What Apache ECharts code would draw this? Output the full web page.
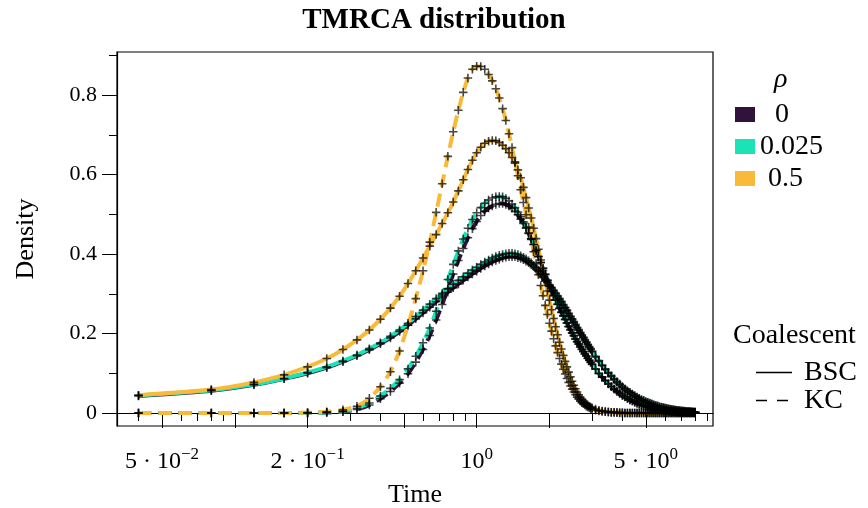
<!DOCTYPE html>
<html><head><meta charset="utf-8">
<script src="https://cdn.jsdelivr.net/npm/echarts@6/dist/echarts.min.js"></script>
<style>html,body{margin:0;padding:0;background:#fff}#c{width:868px;height:508px}</style>
</head><body><div id="c"></div>
<script>
// ---- data ----
const timeVals = [
0.04,0.08,0.12,0.16,0.20,0.24,0.28,0.32,0.36,0.40,
0.44,0.48,0.52,0.56,0.60,0.64,0.68,0.72,0.76,0.80,
0.84,0.88,0.92,0.96,1.00,1.04,1.08,1.12,1.16,1.20,
1.24,1.28,1.32,1.36,1.40,1.44,1.48,1.52,1.56,1.60,
1.64,1.68,1.72,1.76,1.80,1.84,1.88,1.92,1.96,2.00,
2.04,2.08,2.12,2.16,2.20,2.24,2.28,2.32,2.36,2.40,
2.44,2.48,2.52,2.56,2.60,2.64,2.68,2.72,2.76,2.80,
2.84,2.88,2.92,2.96,3.00,
3.1,3.2,3.3,3.4,3.5,3.6,3.7,3.8,3.9,4.0,
4.1,4.2,4.3,4.4,4.5,4.6,4.7,4.8,4.9,5.0,
5.1,5.2,5.3,5.4,5.5,5.6,5.7,5.8,5.9,6.0,
6.1,6.2,6.3,6.4,6.5,6.6,6.7,6.8,6.9,7.0,
7.1,7.2,7.3,7.4,7.5,7.6,7.7,7.8,7.9,8.0];

const bscRho05 = [
0.045,0.059,0.077,0.096,0.116,0.137,0.160,0.184,0.209,0.236,
0.264,0.294,0.326,0.358,0.390,0.420,0.449,0.477,0.504,0.531,
0.559,0.587,0.613,0.636,0.655,0.669,0.679,0.684,0.686,0.685,
0.681,0.674,0.665,0.655,0.643,0.629,0.612,0.592,0.568,0.542,
0.516,0.491,0.465,0.439,0.412,0.385,0.358,0.332,0.307,0.284,
0.260,0.238,0.217,0.197,0.178,0.161,0.145,0.130,0.116,0.103,
0.091,0.080,0.070,0.061,0.053,0.046,0.040,0.035,0.030,0.026,
0.023,0.020,0.017,0.015,0.013,
0.010,0.007,0.005,0.004,0.003,0.002,0.002,0.001,0.001,0.001,
0,0,0,0,0,0,0,0,0,0,
0,0,0,0,0,0,0,0,0,0,
0,0,0,0,0,0,0,0,0,0,
0,0,0,0,0,0,0,0,0,0];

const kcRho05 = [
0,0,0,0,0.001,0.003,0.008,0.017,0.037,0.066,
0.104,0.156,0.221,0.288,0.358,0.430,0.505,0.577,0.646,0.708,
0.762,0.807,0.843,0.865,0.873,0.872,0.865,0.852,0.836,0.816,
0.793,0.766,0.736,0.703,0.668,0.632,0.597,0.562,0.530,0.499,
0.468,0.437,0.406,0.376,0.348,0.321,0.295,0.271,0.248,0.226,
0.206,0.187,0.169,0.152,0.137,0.123,0.110,0.098,0.087,0.077,
0.068,0.060,0.053,0.046,0.040,0.035,0.030,0.026,0.023,0.020,
0.017,0.015,0.013,0.011,0.010,
0.007,0.005,0.004,0.003,0.002,0.001,0.001,0.001,0,0,
0,0,0,0,0,0,0,0,0,0,
0,0,0,0,0,0,0,0,0,0,
0,0,0,0,0,0,0,0,0,0,
0,0,0,0,0,0,0,0,0,0];

const bscRho0025 = [
0.044,0.057,0.072,0.087,0.102,0.116,0.131,0.146,0.162,0.177,
0.193,0.209,0.226,0.243,0.259,0.274,0.288,0.301,0.313,0.324,
0.334,0.343,0.352,0.360,0.367,0.374,0.380,0.385,0.390,0.394,
0.397,0.399,0.401,0.402,0.402,0.401,0.399,0.396,0.392,0.388,
0.383,0.378,0.372,0.366,0.359,0.352,0.345,0.338,0.330,0.323,
0.316,0.309,0.302,0.295,0.288,0.281,0.273,0.266,0.259,0.251,
0.244,0.237,0.230,0.223,0.216,0.210,0.203,0.197,0.191,0.185,
0.179,0.173,0.167,0.162,0.156,
0.143,0.132,0.121,0.111,0.102,0.094,0.086,0.079,0.073,0.067,
0.061,0.056,0.052,0.048,0.044,0.040,0.037,0.034,0.032,0.029,
0.027,0.025,0.023,0.021,0.019,0.018,0.016,0.015,0.014,0.013,
0.012,0.011,0.010,0.009,0.0085,0.0078,0.0072,0.0066,0.0061,0.0056,
0.0052,0.0048,0.0044,0.0041,0.0038,0.0035,0.0032,0.0030,0.0027,0.0025];

const bscRho0 = [
0.043,0.056,0.071,0.086,0.100,0.114,0.129,0.144,0.159,0.174,
0.189,0.205,0.221,0.237,0.252,0.266,0.280,0.292,0.304,0.315,
0.325,0.334,0.342,0.350,0.357,0.364,0.370,0.375,0.380,0.384,
0.387,0.390,0.392,0.393,0.393,0.393,0.391,0.389,0.386,0.382,
0.378,0.373,0.368,0.362,0.356,0.349,0.342,0.335,0.328,0.321,
0.314,0.307,0.300,0.293,0.286,0.279,0.271,0.264,0.257,0.249,
0.242,0.235,0.228,0.221,0.214,0.208,0.201,0.195,0.189,0.183,
0.177,0.171,0.165,0.160,0.154,
0.141,0.130,0.119,0.109,0.100,0.092,0.084,0.077,0.071,0.065,
0.060,0.055,0.051,0.047,0.043,0.039,0.036,0.033,0.031,0.028,
0.026,0.024,0.022,0.020,0.018,0.017,0.015,0.014,0.013,0.012,
0.011,0.010,0.0095,0.0087,0.008,0.0074,0.0068,0.0063,0.0058,0.0053,
0.0049,0.0045,0.0042,0.0039,0.0036,0.0033,0.0030,0.0028,0.0026,0.0024];

const kcRho0025 = [
0,0,0,0,0,0.001,0.004,0.012,0.025,0.043,
0.062,0.084,0.111,0.143,0.177,0.214,0.256,0.297,0.336,0.374,
0.408,0.438,0.465,0.487,0.504,0.517,0.528,0.536,0.541,0.544,
0.545,0.544,0.540,0.534,0.526,0.517,0.506,0.494,0.481,0.467,
0.453,0.439,0.424,0.409,0.394,0.379,0.364,0.349,0.334,0.319,
0.307,0.296,0.285,0.274,0.264,0.254,0.245,0.236,0.227,0.218,
0.210,0.202,0.195,0.187,0.180,0.174,0.167,0.161,0.155,0.149,
0.144,0.138,0.133,0.128,0.123,
0.111,0.100,0.091,0.082,0.074,0.067,0.061,0.055,0.050,0.045,
0.041,0.037,0.033,0.030,0.027,0.025,0.022,0.020,0.018,0.017,
0.015,0.014,0.012,0.011,0.010,0.009,0.008,0.0075,0.0068,0.0061,
0.0055,0.0050,0.0045,0.0041,0.0037,0.0033,0.0030,0.0027,0.0025,0.0022,
0.0020,0.0018,0.0016,0.0015,0.0013,0.0012,0.0011,0.0010,0.0009,0.0008];

const kcRho0 = [
0,0,0,0,0,0.001,0.003,0.009,0.020,0.036,
0.054,0.075,0.099,0.128,0.160,0.195,0.234,0.273,0.312,0.350,
0.384,0.414,0.441,0.464,0.482,0.497,0.508,0.516,0.521,0.525,
0.527,0.527,0.525,0.521,0.515,0.508,0.499,0.488,0.477,0.465,
0.452,0.438,0.424,0.409,0.394,0.379,0.364,0.349,0.334,0.319,
0.306,0.295,0.284,0.273,0.263,0.253,0.244,0.235,0.226,0.217,
0.209,0.201,0.194,0.186,0.179,0.173,0.166,0.160,0.154,0.148,
0.143,0.137,0.132,0.127,0.122,
0.110,0.099,0.090,0.081,0.073,0.066,0.060,0.054,0.049,0.044,
0.040,0.036,0.033,0.030,0.027,0.024,0.022,0.020,0.018,0.016,
0.015,0.013,0.012,0.011,0.010,0.009,0.008,0.0074,0.0067,0.0060,
0.0054,0.0049,0.0044,0.0040,0.0036,0.0033,0.0030,0.0027,0.0024,0.0022,
0.0020,0.0018,0.0016,0.0014,0.0013,0.0012,0.0011,0.0010,0.0009,0.0008];

const rhoLabels = ['0', '0.025', '0.5'];
const rhoColors = ['#30123B', '#1AE4B6', '#FABA39'];
const coalLabels = ['BSC', 'KC'];
const yTickMajor = [0, 0.2, 0.4, 0.6, 0.8];
const yTickMinor = [0.1, 0.3, 0.5, 0.7, 0.9];
const xTickMajor = [0.05, 0.1, 0.2, 0.5, 1, 2, 5];
const xTickMinor = [0.04, 0.06, 0.07, 0.08, 0.09, 0.3, 0.4, 0.6, 0.7, 0.8, 0.9, 3, 4, 6, 7, 8, 9];
const xTickLabelVals = [0.05, 0.2, 1, 5];
const xTickLabelText = [['5 · 10', '−2'], ['2 · 10', '−1'], ['10', '0'], ['5 · 10', '0']];

// ---- chart ----
const FONT = 'Liberation Serif';
const pairs = arr => timeVals.map((x, i) => [x, arr[i]]);
const seriesDefs = [
  {name: 'BSC ρ=0', data: bscRho0, color: rhoColors[0], dash: 'solid'},
  {name: 'KC ρ=0', data: kcRho0, color: rhoColors[0], dash: [13, 7]},
  {name: 'BSC ρ=0.025', data: bscRho0025, color: rhoColors[1], dash: 'solid'},
  {name: 'KC ρ=0.025', data: kcRho0025, color: rhoColors[1], dash: [13, 7]},
  {name: 'BSC ρ=0.5', data: bscRho05, color: rhoColors[2], dash: 'solid'},
  {name: 'KC ρ=0.5', data: kcRho05, color: rhoColors[2], dash: [13, 7]}
];
const plus = 'path://M-0.75,-4 L0.75,-4 L0.75,-0.75 L4,-0.75 L4,0.75 L0.75,0.75 L0.75,4 L-0.75,4 L-0.75,0.75 L-4,0.75 L-4,-0.75 L-0.75,-0.75 Z';
const series = [];
seriesDefs.forEach((s, i) => {
  series.push({
    type: 'line', name: s.name, data: pairs(s.data), showSymbol: false, smooth: 0.2,
    lineStyle: {color: s.color, width: 4, type: s.dash, cap: 'butt'}, z: 2 + i, silent: true
  });
});
seriesDefs.forEach((s, i) => {
  series.push({
    type: 'scatter', name: s.name + ' sim', data: pairs(s.data), symbol: plus, symbolSize: 8.5,
    itemStyle: {color: 'rgba(0,0,0,0.9)'}, z: 20, silent: true
  });
});

function xLabel(v) {
  for (let i = 0; i < xTickLabelVals.length; i++) {
    if (Math.abs(v - xTickLabelVals[i]) / xTickLabelVals[i] < 1e-6) {
      return '{b|' + xTickLabelText[i][0] + '}{s|' + xTickLabelText[i][1] + '}';
    }
  }
  return '';
}

const chart = echarts.init(document.getElementById('c'), null, {renderer: 'canvas'});
const xRange = {min: 0.0326, max: 9.48};
const yRange = {min: -0.0327, max: 0.9086};
chart.setOption({
  animation: false,
  backgroundColor: '#fff',
  title: {text: 'TMRCA distribution', left: 'center', top: 1,
    textStyle: {fontFamily: FONT, fontWeight: 'bold', fontSize: 29, color: '#000'}},
  grid: {left: 117, right: 155, top: 52, bottom: 82, outerBoundsMode: 'none', containLabel: false,
    show: true, borderColor: '#000', borderWidth: 1.2, backgroundColor: 'transparent'},
  xAxis: [
    {type: 'log', ...xRange, position: 'bottom', name: 'Time', nameLocation: 'middle', nameGap: 56,
      nameTextStyle: {fontFamily: FONT, fontSize: 26, color: '#000'},
      axisLine: {show: true, lineStyle: {color: '#000', width: 1.2}},
      axisTick: {show: true, customValues: xTickMajor, length: 15, lineStyle: {color: '#000', width: 1}},
      axisLabel: {show: true, customValues: xTickLabelVals, margin: 20, formatter: xLabel,
        rich: {b: {fontFamily: FONT, fontSize: 24, color: '#000', lineHeight: 28, verticalAlign: 'bottom'},
               s: {fontFamily: FONT, fontSize: 17, color: '#000', lineHeight: 16, verticalAlign: 'top'}}},
      splitLine: {show: false}, minorTick: {show: false}},
    {type: 'log', ...xRange, position: 'bottom',
      axisLine: {show: false},
      axisTick: {show: true, customValues: xTickMinor, length: 8, lineStyle: {color: '#000', width: 1}},
      axisLabel: {show: false}, splitLine: {show: false}}
  ],
  yAxis: [
    {type: 'value', ...yRange, name: 'Density', nameLocation: 'middle', nameGap: 78, nameRotate: 90,
      nameTextStyle: {fontFamily: FONT, fontSize: 26, color: '#000'},
      axisLine: {show: true, lineStyle: {color: '#000', width: 1.2}},
      axisTick: {show: true, customValues: yTickMajor, length: 15, lineStyle: {color: '#000', width: 1}},
      axisLabel: {show: true, customValues: yTickMajor, margin: 20, fontFamily: FONT, fontSize: 22, color: '#000',
        formatter: v => String(Math.round(v * 10) / 10)},
      splitLine: {show: false}},
    {type: 'value', ...yRange, position: 'left',
      axisLine: {show: false},
      axisTick: {show: true, customValues: yTickMinor, length: 8, lineStyle: {color: '#000', width: 1}},
      axisLabel: {show: false}, splitLine: {show: false}}
  ],
  series: series,
  graphic: [
    {type: 'text', x: 774, y: 80, style: {text: 'ρ', font: 'italic 28px "Liberation Serif"', fill: '#000', verticalAlign: 'middle'}},
    {type: 'rect', shape: {x: 735, y: 107, width: 20, height: 15}, style: {fill: rhoColors[0]}},
    {type: 'rect', shape: {x: 735, y: 139, width: 20, height: 15}, style: {fill: rhoColors[1]}},
    {type: 'rect', shape: {x: 735, y: 171, width: 20, height: 15}, style: {fill: rhoColors[2]}},
    {type: 'text', x: 775, y: 115, style: {text: rhoLabels[0], font: '28px "Liberation Serif"', fill: '#000', verticalAlign: 'middle'}},
    {type: 'text', x: 760, y: 147, style: {text: rhoLabels[1], font: '28px "Liberation Serif"', fill: '#000', verticalAlign: 'middle'}},
    {type: 'text', x: 768, y: 179, style: {text: rhoLabels[2], font: '28px "Liberation Serif"', fill: '#000', verticalAlign: 'middle'}},
    {type: 'text', x: 733, y: 336, style: {text: 'Coalescent', font: '28px "Liberation Serif"', fill: '#000', verticalAlign: 'middle'}},
    {type: 'line', shape: {x1: 756, y1: 372.5, x2: 792, y2: 372.5}, style: {stroke: '#000', lineWidth: 1.3}},
    {type: 'text', x: 804, y: 373, style: {text: coalLabels[0], font: '28px "Liberation Serif"', fill: '#000', verticalAlign: 'middle'}},
    {type: 'line', shape: {x1: 756, y1: 400.5, x2: 789, y2: 400.5}, style: {stroke: '#000', lineWidth: 1.3, lineDash: [11, 10]}},
    {type: 'text', x: 804, y: 401, style: {text: coalLabels[1], font: '28px "Liberation Serif"', fill: '#000', verticalAlign: 'middle'}}
  ]
});
</script></body></html>
